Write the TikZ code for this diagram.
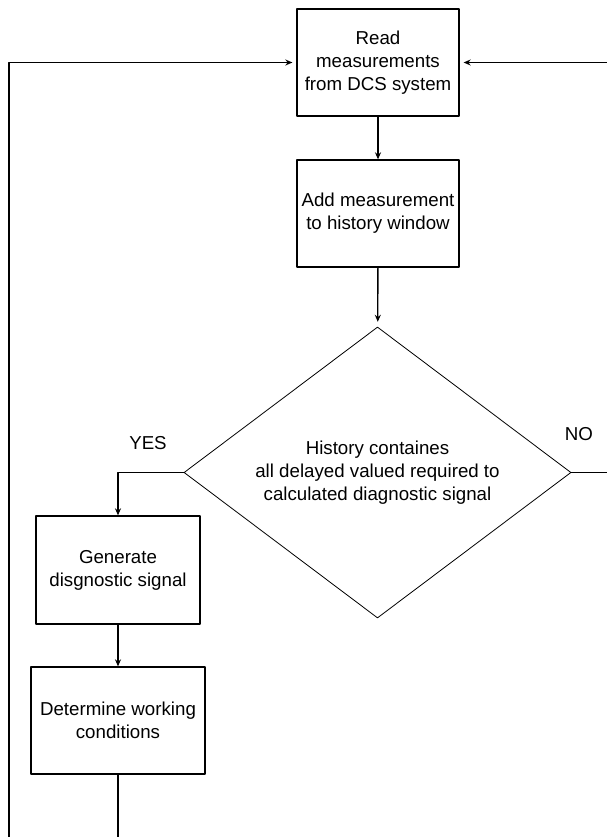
\documentclass[tikz,border=0pt]{standalone}
\usepackage{fontspec}
\setmainfont{Liberation Sans}
\usetikzlibrary{shapes.geometric,arrows.meta}
\begin{document}
\begin{tikzpicture}[x=1pt,y=-1pt,line join=round,>={Stealth[length=7pt,width=6pt]},
	font=\fontsize{18.7}{23}\selectfont]
	\tikzset{box/.style={draw,line width=1.3pt,minimum width=162pt,minimum height=107pt,inner sep=0pt,align=center},
		decision/.style={diamond,draw,line width=0.8pt,minimum width=387pt,minimum height=291pt,aspect=1.33,inner sep=0pt,align=center},
		link/.style={line width=1.3pt}}
	\useasboundingbox (0,0) rectangle (607,837);
	% steps
	\node[box] (read) at (378,62.5) {Read\\measurements\\from DCS system};
	\node[box] (add) at (378,213.5) {Add measurement\\to history window};
	\node[decision] (check) at (377.5,472.5) {History containes\\all delayed valued required to\\calculated diagnostic signal};
	\node[box,minimum width=164pt,minimum height=108pt] (gen) at (118,570) {Generate\\disgnostic signal};
	\node[box,minimum width=174pt] (det) at (118,720.5) {Determine working\\conditions};
	\node (yes) at (148,443) {YES};
	\node (no) at (579,434) {NO};
	% edges of the page
	\coordinate (loopL) at (9,837);
	\coordinate (loopR) at (607,62.5);
	\coordinate (bottom) at (118,837);
	% links
	\draw[link,->] (read) -- (add);
	\draw[link,->,shorten >=5pt] (add) -- (check);
	\draw[link,->] (check.west) -| (gen);
	\draw[link,->] (gen) -- (det);
	\draw[link] (det) -- (bottom);
	\draw[link,->,shorten >=4pt] (loopL) |- (read);
	\draw[link,->,shorten >=4pt] (loopR) -- (read);
	\draw[link] (check.east) -- (check.east -| loopR);
\end{tikzpicture}
\end{document}
